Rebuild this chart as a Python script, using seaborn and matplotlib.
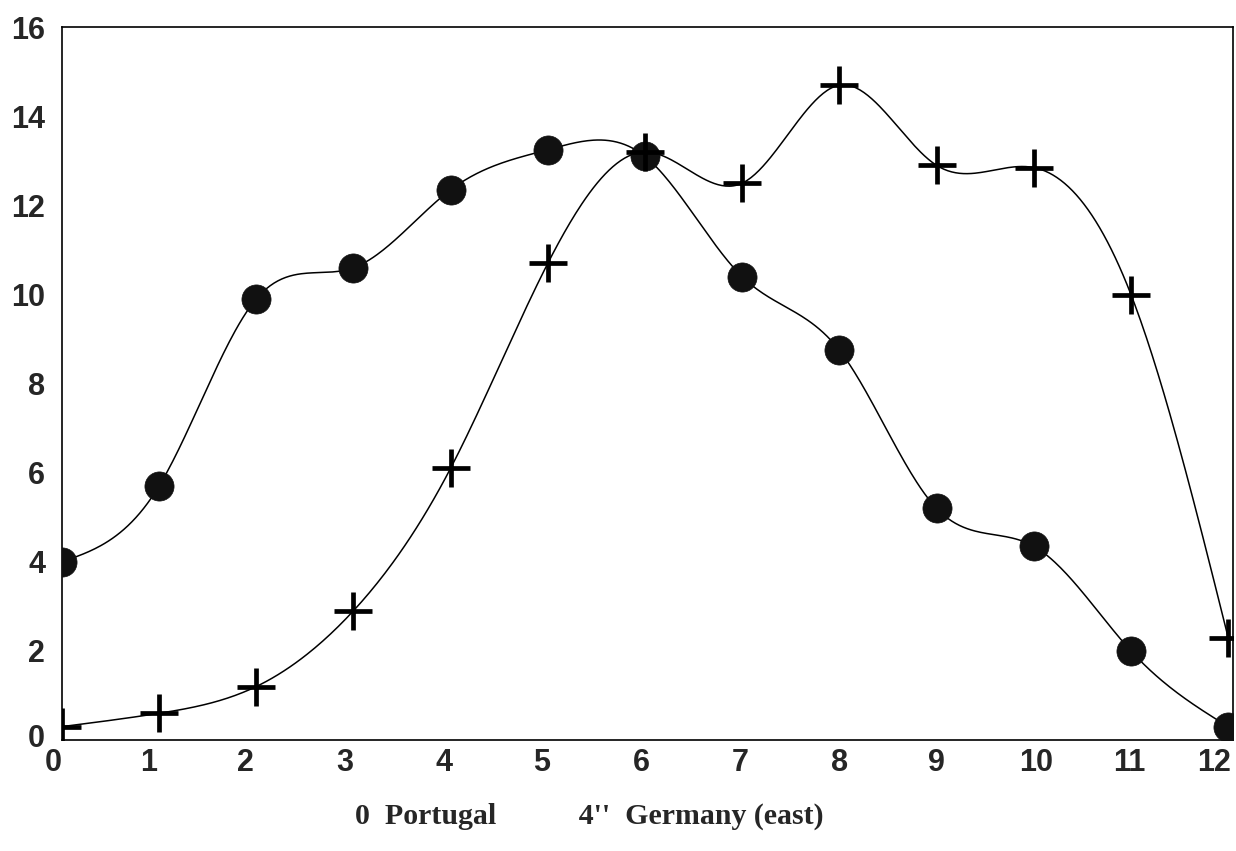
import numpy as np
import pandas as pd
import matplotlib
matplotlib.use("Agg")
import matplotlib.pyplot as plt
import matplotlib.transforms as mtransforms
import seaborn as sns

months = [0, 1, 2, 3, 4, 5, 6, 7, 8, 9, 10, 11, 12]
portugal = [4.0, 5.7, 9.9, 10.6, 12.35, 13.25, 13.1, 10.4, 8.75, 5.2, 4.35, 2.0, 0.3]
germany_east = [0.3, 0.6, 1.2, 2.9, 6.1, 10.7, 13.2, 12.5, 14.7, 12.9, 12.85, 10.0, 2.3]
x_ticks = [0, 1, 2, 3, 4, 5, 6, 7, 8, 9, 10, 11, 12]
y_ticks = [0, 2, 4, 6, 8, 10, 12, 14, 16]
legend_text = "0  Portugal           4''  Germany (east)"


def natural_spline(x, y, n=600):
    x = np.asarray(x, float)
    y = np.asarray(y, float)
    k = len(x)
    h = np.diff(x)
    A = np.zeros((k, k))
    b = np.zeros(k)
    A[0, 0] = 1
    A[-1, -1] = 1
    for i in range(1, k - 1):
        A[i, i - 1] = h[i - 1]
        A[i, i] = 2 * (h[i - 1] + h[i])
        A[i, i + 1] = h[i]
        b[i] = 3 * ((y[i + 1] - y[i]) / h[i] - (y[i] - y[i - 1]) / h[i - 1])
    c = np.linalg.solve(A, b)
    xs = np.linspace(x[0], x[-1], n)
    idx = np.clip(np.searchsorted(x, xs) - 1, 0, k - 2)
    dx = xs - x[idx]
    bb = (y[idx + 1] - y[idx]) / h[idx] - h[idx] * (2 * c[idx] + c[idx + 1]) / 3
    d = (c[idx + 1] - c[idx]) / (3 * h[idx])
    ys = y[idx] + bb * dx + c[idx] * dx ** 2 + d * dx ** 3
    return xs, ys


sns.set_theme(style="white")
plt.rcParams["font.family"] = ["Liberation Sans", "DejaVu Sans"]

fig = plt.figure(figsize=(12.36, 8.51), dpi=100)
ax = fig.add_axes([0.050, 0.1304, 0.9476, 0.8376])

df = pd.DataFrame({"month": months, "Portugal": portugal, "Germany (east)": germany_east})

for col in ["Portugal", "Germany (east)"]:
    xs, ys = natural_spline(df["month"], df[col])
    sns.lineplot(x=xs, y=ys, ax=ax, color="black", linewidth=1.1, sort=False)

sns.scatterplot(data=df, x="month", y="Portugal", ax=ax, marker="o", s=440,
                color="#111111", edgecolor="#111111", linewidth=0.5, zorder=5)
sns.scatterplot(data=df, x="month", y="Germany (east)", ax=ax, marker="+", s=720,
                color="black", linewidth=3.4, zorder=5)

ax.set_xlim(0, 12.05)
ax.set_ylim(0, 16)
ax.set_xticks(x_ticks)
ax.set_yticks(y_ticks)
ax.set_xticklabels([str(t) for t in x_ticks], fontsize=22, fontweight="bold")
ax.set_yticklabels([str(t) for t in y_ticks], fontsize=22, fontweight="bold")
ax.tick_params(axis="both", length=0)
ax.tick_params(axis="x", pad=6)
ax.tick_params(axis="y", pad=12)
ax.set_xlabel("")
ax.set_ylabel("")
for sp in ax.spines.values():
    sp.set_visible(True)
    sp.set_color("black")
    sp.set_linewidth(1.2)

# reference labels sit slightly left of their grid positions
shifts = [-9, -10, -11, -9, -7, -6, -4, -2, 0, 0, 2, -2, -14]
for lab, sh in zip(ax.get_xticklabels(), shifts):
    lab.set_transform(lab.get_transform() +
                      mtransforms.ScaledTranslation(sh / 100, 0, fig.dpi_scale_trans))
ylabs = ax.get_yticklabels()
ylabs[0].set_transform(ylabs[0].get_transform() +
                       mtransforms.ScaledTranslation(0, 5 / 100, fig.dpi_scale_trans))

fig.text(0.477, 0.041, legend_text, ha="center", va="center", fontsize=21.5,
         fontweight="bold", family=["Liberation Serif", "DejaVu Serif"])

fig.savefig("out.png", dpi=100, facecolor="white")
